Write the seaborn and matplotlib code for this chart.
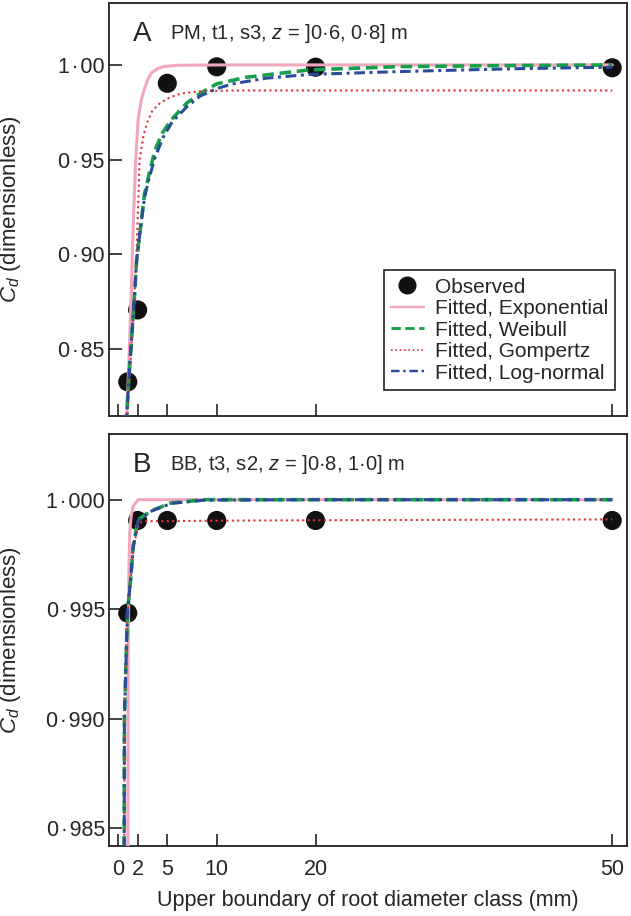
import matplotlib
matplotlib.use('Agg')
import pandas as pd
import matplotlib.pyplot as plt
from matplotlib.lines import Line2D
import seaborn as sns

sns.set_style('ticks')
plt.rcParams['font.family'] = ['Liberation Sans', 'DejaVu Sans']
plt.rcParams['mathtext.fontset'] = 'custom'
plt.rcParams['mathtext.rm'] = 'Liberation Sans'
plt.rcParams['mathtext.it'] = 'Liberation Sans:italic'

# observed values
obs_x = [1, 2, 5, 10, 20, 50]
obs_a = [0.8326, 0.8706, 0.9903, 0.9990, 0.9988, 0.9985]
obs_b = [0.99482, 0.99905, 0.99905, 0.99905, 0.99905, 0.99905]

# panel A fitted curves
exp_a_x = [0.85, 1.04, 1.3, 1.55, 1.8, 2.05, 2.35, 2.66, 3.0, 3.4, 4.0, 4.6, 6, 10, 20, 50]
exp_a_y = [0.81, 0.833, 0.871, 0.915, 0.950, 0.971, 0.981, 0.987, 0.992, 0.9958, 0.9980, 0.9991, 0.9998, 1.0, 1.0, 1.0]
wei_a_x = [0.85, 1.1, 1.6, 1.9, 2.3, 2.7, 3.1, 3.75, 4.5, 5.4, 7.0, 8.5, 10, 13, 19.4, 28.5, 40, 50]
wei_a_y = [0.81, 0.834, 0.871, 0.897, 0.9145, 0.932, 0.941, 0.955, 0.964, 0.971, 0.980, 0.9855, 0.990, 0.9935, 0.9974, 0.9991, 0.9997, 1.0]
gom_a_x = [0.9, 1.3, 1.6, 1.9, 2.2, 2.6, 3.0, 3.5, 4.3, 5.3, 6.5, 8.5, 12, 20, 50]
gom_a_y = [0.81, 0.845, 0.871, 0.902, 0.950, 0.963, 0.970, 0.976, 0.980, 0.983, 0.985, 0.9862, 0.9865, 0.9865, 0.9865]
lgn_a_x = [0.85, 1.1, 1.6, 1.9, 2.3, 2.7, 3.1, 3.75, 4.6, 5.5, 7.0, 8.3, 10, 11.6, 15, 19.4, 28.5, 40, 50]
lgn_a_y = [0.81, 0.834, 0.871, 0.897, 0.9145, 0.930, 0.939, 0.951, 0.962, 0.970, 0.978, 0.9835, 0.9875, 0.990, 0.993, 0.995, 0.9965, 0.998, 0.9988]

# panel B fitted curves
exp_b_x = [1.0, 1.05, 1.12, 1.2, 1.35, 1.55, 2.05, 5, 20, 50]
exp_b_y = [0.980, 0.9930, 0.9970, 0.9985, 0.9993, 0.9997, 1.0, 1.0, 1.0, 1.0]
wei_b_x = [0.63, 0.66, 0.9, 0.98, 1.3, 1.55, 2.05, 3.4, 5.4, 8.8, 20, 50]
wei_b_y = [0.980, 0.990, 0.9938, 0.9949, 0.9964, 0.9979, 0.99909, 0.9995, 0.99985, 1.0, 1.0, 1.0]
gom_b_x = [0.63, 0.66, 0.9, 0.98, 1.3, 1.55, 2.0, 2.4, 3, 5, 10, 20, 50]
gom_b_y = [0.980, 0.990, 0.9938, 0.9949, 0.9964, 0.9978, 0.9987, 0.99900, 0.99902, 0.99902, 0.99904, 0.99906, 0.99910]
lgn_b_x = [0.63, 0.66, 0.9, 0.98, 1.3, 1.55, 2.05, 3.4, 5.4, 8.8, 20, 50]
lgn_b_y = [0.980, 0.990, 0.9938, 0.9949, 0.9964, 0.9978, 0.99905, 0.99948, 0.99983, 0.99998, 1.0, 1.0]

x_ticks = [0, 2, 5, 10, 20, 50]
ya_ticks = [0.85, 0.90, 0.95, 1.00]
yb_ticks = [0.985, 0.990, 0.995, 1.000]
dot = '\u200a\u00b7\u200a'
ya_labels = [f'{t:.2f}'.replace('.', dot) for t in ya_ticks]
yb_labels = [f'{t:.3f}'.replace('.', dot) for t in yb_ticks]

styles = {
    'Fitted, Exponential': dict(color='#f2a7bf', lw=2.2, ls='-'),
    'Fitted, Weibull': dict(color='#17a04b', lw=2.6, ls=(0, (3.2, 1.6))),
    'Fitted, Gompertz': dict(color='#e0303a', lw=1.5, ls=(0, (1, 1.6))),
    'Fitted, Log-normal': dict(color='#2b4b9b', lw=2.2, ls=(0, (3.5, 1.5, 1, 1.5))),
}


def draw(ax, yobs, curves):
    sns.scatterplot(x=obs_x, y=yobs, ax=ax, color='#111111', s=190,
                    edgecolor='none', zorder=2)
    for name, (cx, cy) in curves.items():
        df = pd.DataFrame({'x': cx, 'y': cy})
        st = styles[name]
        sns.lineplot(data=df, x='x', y='y', ax=ax, sort=False, estimator=None,
                     color=st['color'], linewidth=st['lw'], linestyle=st['ls'],
                     zorder=3)
    ax.set_xlim(-0.9, 51.5)
    ax.set_xticks(x_ticks)
    ax.tick_params(direction='in', length=9, width=1.2, labelsize=15.5,
                   color='#222222')
    ax.tick_params(axis='y', pad=3)
    ax.tick_params(axis='x', pad=9)
    for sp in ax.spines.values():
        sp.set_visible(True)
        sp.set_linewidth(1.3)
        sp.set_color('#222222')
    ax.set_ylabel(r'$C_d$ (dimensionless)', fontsize=16)
    ax.yaxis.set_label_coords(-0.165, 0.5)


fig = plt.figure(figsize=(6.31, 9.16), dpi=100)
ax_a = fig.add_axes([0.1727, 0.5459, 0.8210, 0.4508])
ax_b = fig.add_axes([0.1727, 0.0764, 0.8210, 0.4498])

draw(ax_a, obs_a, {
    'Fitted, Exponential': (exp_a_x, exp_a_y),
    'Fitted, Weibull': (wei_a_x, wei_a_y),
    'Fitted, Gompertz': (gom_a_x, gom_a_y),
    'Fitted, Log-normal': (lgn_a_x, lgn_a_y),
})
ax_a.set_ylim(0.8146, 1.0327)
ax_a.set_yticks(ya_ticks)
ax_a.set_yticklabels(ya_labels)
ax_a.set_xticklabels([])
ax_a.set_xlabel('')
ax_a.text(0.046, 0.925, 'A', transform=ax_a.transAxes, fontsize=20,
          va='center', ha='left')
ax_a.text(0.118, 0.925, 'PM, t1, s3, $z$ = ]0\u00b76, 0\u00b78] m',
          transform=ax_a.transAxes, fontsize=14.5, va='center', ha='left')

draw(ax_b, obs_b, {
    'Fitted, Exponential': (exp_b_x, exp_b_y),
    'Fitted, Weibull': (wei_b_x, wei_b_y),
    'Fitted, Gompertz': (gom_b_x, gom_b_y),
    'Fitted, Log-normal': (lgn_b_x, lgn_b_y),
})
ax_b.set_ylim(0.98418, 1.0030)
ax_b.set_yticks(yb_ticks)
ax_b.set_yticklabels(yb_labels)
ax_b.set_xticklabels([str(t) for t in x_ticks])
ax_b.text(0.046, 0.925, 'B', transform=ax_b.transAxes, fontsize=20,
          va='center', ha='left')
ax_b.text(0.118, 0.925, 'BB, t3, s2, $z$ = ]0\u00b78, 1\u00b70] m',
          transform=ax_b.transAxes, fontsize=14.5, va='center', ha='left')
ax_b.set_xlabel('Upper boundary of root diameter class (mm)', fontsize=15.5)
ax_b.xaxis.set_label_coords(0.5, -0.107)
ax_b.xaxis.label.set_va('top')

# legend
handles = [Line2D([], [], marker='o', ls='none', color='#111111', markersize=12)]
labels = ['Observed']
for name, st in styles.items():
    handles.append(Line2D([], [], color=st['color'], lw=st['lw'] * 0.8 if 'Gomp' not in name else 1.2,
                          ls=st['ls']))
    labels.append(name)
leg = ax_a.legend(handles, labels, loc='lower right', bbox_to_anchor=(0.977, 0.063),
                  fontsize=15, frameon=True, fancybox=False, framealpha=1,
                  edgecolor='#222222', handlelength=1.6, handletextpad=0.5,
                  labelspacing=0.12, borderpad=0.35, borderaxespad=0)
leg.get_frame().set_linewidth(1.2)

fig.savefig('out.png', dpi=100)
